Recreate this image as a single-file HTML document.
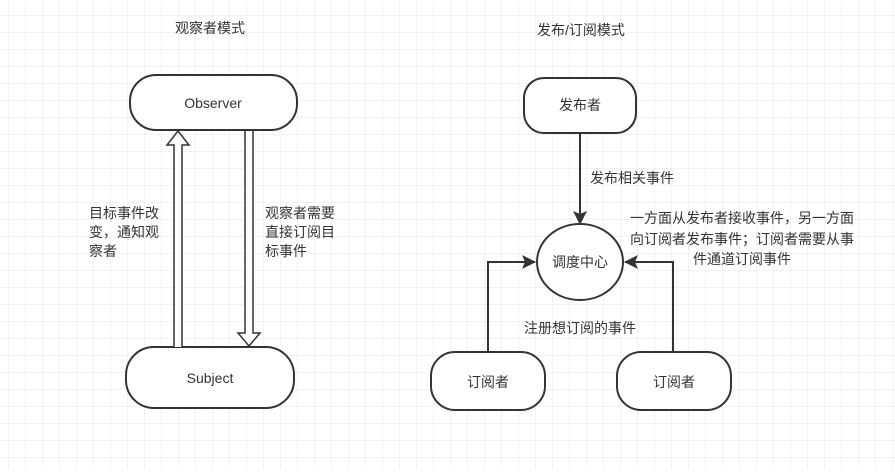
<!DOCTYPE html>
<html><head><meta charset="utf-8"><style>
html,body{margin:0;padding:0;background:#fff;}
svg text{font-family:"Liberation Sans","Noto Sans CJK SC",sans-serif;font-size:14px;fill:#333;}
</style></head><body>
<svg width="895" height="469" xmlns="http://www.w3.org/2000/svg">
<defs>
<pattern id="g" width="17" height="17" patternUnits="userSpaceOnUse" x="8" y="15">
<path d="M0 0H17M0 0V17" stroke="#e6e6e6" stroke-width="1" fill="none"/>
</pattern>
<marker id="a" markerWidth="14" markerHeight="14" refX="13" refY="7" orient="auto" markerUnits="userSpaceOnUse">
<path d="M0 0L14 7L0 14L3 7Z" fill="#333"/>
</marker>
</defs>
<rect width="895" height="469" fill="url(#g)"/>
<text x="210" y="33" text-anchor="middle">观察者模式</text>
<text x="581" y="35" text-anchor="middle">发布/订阅模式</text>

<rect x="130" y="75" width="167" height="55" rx="26" fill="#fff" stroke="#333" stroke-width="2"/>
<text x="213" y="108" text-anchor="middle" font-size="15">Observer</text>
<rect x="126" y="347" width="168" height="61" rx="28" fill="#fff" stroke="#333" stroke-width="2"/>
<text x="210" y="383" text-anchor="middle" font-size="15">Subject</text>

<path d="M174 347V145H167L178 131L189 145H182V347" fill="#fff" stroke="#333" stroke-width="1.5"/>
<path d="M245 131V333H238L249 346L260 333H253V131" fill="#fff" stroke="#333" stroke-width="1.5"/>

<text x="89" y="218">目标事件改</text>
<text x="89" y="237">变，通知观</text>
<text x="89" y="256">察者</text>
<text x="265" y="218">观察者需要</text>
<text x="265" y="237">直接订阅目</text>
<text x="265" y="256">标事件</text>

<rect x="524" y="78" width="112" height="55" rx="20" fill="#fff" stroke="#333" stroke-width="2"/>
<text x="580" y="110" text-anchor="middle">发布者</text>
<line x1="580" y1="133" x2="580" y2="224" stroke="#333" stroke-width="2" marker-end="url(#a)"/>
<text x="590" y="183">发布相关事件</text>

<ellipse cx="580" cy="262" rx="43" ry="38" fill="#fff" stroke="#333" stroke-width="2"/>
<text x="580" y="267" text-anchor="middle">调度中心</text>

<text x="742" y="223" text-anchor="middle">一方面从发布者接收事件，另一方面</text>
<text x="742" y="244" text-anchor="middle">向订阅者发布事件；订阅者需要从事</text>
<text x="742" y="264" text-anchor="middle">件通道订阅事件</text>

<path d="M488 351V262H535" fill="none" stroke="#333" stroke-width="2" marker-end="url(#a)"/>
<path d="M673 351V262H625" fill="none" stroke="#333" stroke-width="2" marker-end="url(#a)"/>
<text x="580" y="333" text-anchor="middle">注册想订阅的事件</text>

<rect x="431" y="352" width="114" height="58" rx="24" fill="#fff" stroke="#333" stroke-width="2"/>
<text x="488" y="387" text-anchor="middle">订阅者</text>
<rect x="617" y="352" width="114" height="58" rx="24" fill="#fff" stroke="#333" stroke-width="2"/>
<text x="674" y="387" text-anchor="middle">订阅者</text>
</svg>
</body></html>
